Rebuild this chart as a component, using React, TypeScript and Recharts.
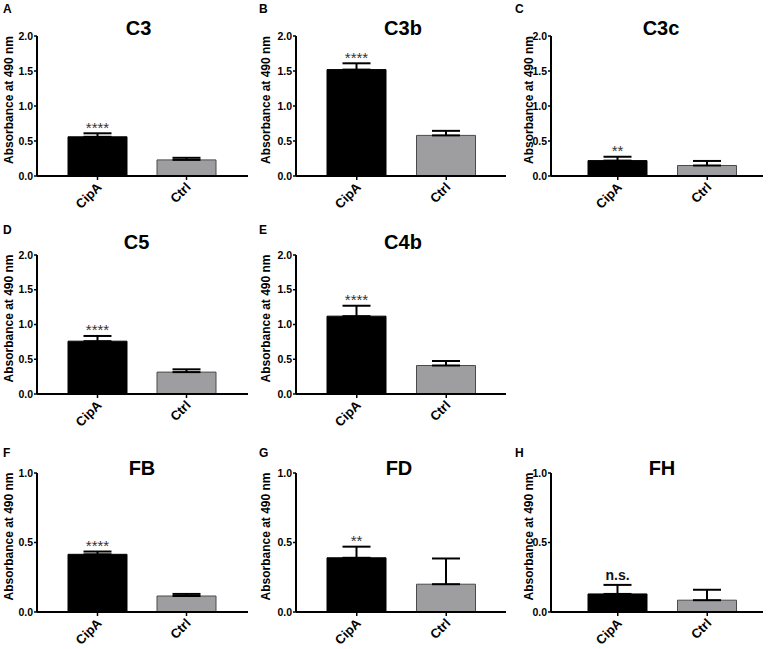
import React from 'react';
import { BarChart, Bar, XAxis, YAxis, ErrorBar, Cell, LabelList } from 'recharts';

// ---------- data ----------
const categories = ['CipA', 'Ctrl'];
const panelLetters = ['A', 'B', 'C', 'D', 'E', 'F', 'G', 'H'];
const panelTitles = ['C3', 'C3b', 'C3c', 'C5', 'C4b', 'FB', 'FD', 'FH'];

const meanC3 = [0.56, 0.23];
const errC3 = [0.05, 0.03];
const meanC3b = [1.52, 0.58];
const errC3b = [0.09, 0.065];
const meanC3c = [0.22, 0.15];
const errC3c = [0.055, 0.065];
const meanC5 = [0.76, 0.315];
const errC5 = [0.075, 0.04];
const meanC4b = [1.12, 0.41];
const errC4b = [0.15, 0.065];
const meanFB = [0.415, 0.115];
const errFB = [0.02, 0.015];
const meanFD = [0.39, 0.2];
const errFD = [0.08, 0.185];
const meanFH = [0.13, 0.085];
const errFH = [0.065, 0.075];

const significance = ['****', '****', '**', '****', '****', '****', '**', 'n.s.'];

const ticksComplement = [0, 0.5, 1.0, 1.5, 2.0];
const ticksFactor = [0, 0.5, 1.0];
const yAxisTitle = 'Absorbance at 490 nm';

const barFills = ['#000000', '#9e9ea0'];
const barStrokes = ['#000000', '#4a4a4a'];

const FONT = '"Liberation Sans", Arial, Helvetica, sans-serif';

// ---------- layout ----------
const columns = [
  { left: 0, axisX: 37, rightEnd: 248, padL: 16, padR: 17, labelX: 12.7, letterX: 3 },
  { left: 256, axisX: 296, rightEnd: 506, padL: 16, padR: 15, labelX: 14, letterX: 259 },
  { left: 512, axisX: 551, rightEnd: 763, padL: 22, padR: 11, labelX: 20.5, letterX: 515 },
];
const rows = [
  { top: 0, plotTop: 36, plotBottom: 176, height: 218, letterY: 13, titleY: 35 },
  { top: 218, plotTop: 255, plotBottom: 394, height: 216, letterY: 234, titleY: 249 },
  { top: 430, plotTop: 473, plotBottom: 612, height: 219, letterY: 457, titleY: 475 },
];
const titleCenters = [138.5, 403, 661, 136.5, 403, 142, 399, 662];

const panels = [
  { row: 0, col: 0, means: meanC3, errs: errC3, ticks: ticksComplement },
  { row: 0, col: 1, means: meanC3b, errs: errC3b, ticks: ticksComplement },
  { row: 0, col: 2, means: meanC3c, errs: errC3c, ticks: ticksComplement },
  { row: 1, col: 0, means: meanC5, errs: errC5, ticks: ticksComplement },
  { row: 1, col: 1, means: meanC4b, errs: errC4b, ticks: ticksComplement },
  { row: 2, col: 0, means: meanFB, errs: errFB, ticks: ticksFactor },
  { row: 2, col: 1, means: meanFD, errs: errFD, ticks: ticksFactor },
  { row: 2, col: 2, means: meanFH, errs: errFH, ticks: ticksFactor },
];

const XTick = (props: any) => {
  const { x, y, payload } = props;
  const ax = x + 5;
  const ay = y + 8;
  return (
    <text
      x={ax}
      y={ay}
      transform={`rotate(-45, ${ax}, ${ay})`}
      textAnchor="end"
      fontSize={13}
      fontWeight={700}
      fontFamily={FONT}
      fill="#000"
    >
      {payload.value}
    </text>
  );
};

const makeSig = (rowsData: any[]) => (props: any) => {
  const vb = props.viewBox || props;
  const index = props.index;
  if (index !== 0) return null;
  const d = rowsData[index];
  const x = Number(vb.x);
  const y = Number(vb.y);
  const w = Number(vb.width);
  const h = Number(vb.height);
  const top = Math.min(y, y + h);
  const pxPerUnit = Math.abs(h) / d.mean;
  const capY = top - d.errRange[1] * pxPerUnit;
  const cx = x + w / 2;
  const isNS = d.sig === 'n.s.';
  return (
    <text
      x={cx}
      y={isNS ? capY - 5 : capY - 0.5}
      textAnchor="middle"
      fontSize={isNS ? 14 : 15}
      fontWeight={isNS ? 700 : 400}
      fontFamily={FONT}
      fill={isNS ? '#111' : '#333'}
    >
      {d.sig}
    </text>
  );
};

const Panel = ({ idx }: { idx: number }) => {
  const p = panels[idx];
  const c = columns[p.col];
  const r = rows[p.row];
  const data = categories.map((name, i) => ({
    name,
    mean: p.means[i],
    errRange: [0, p.errs[i]],
    sig: i === 0 ? significance[idx] : '',
  }));
  const width = c.rightEnd - c.left + 2;
  const marginTop = r.plotTop - r.top;
  const xAxisHeight = r.height - (r.plotBottom - r.top);
  const yMax = p.ticks[p.ticks.length - 1];
  const plotH = r.plotBottom - r.plotTop;
  const labelY = marginTop + plotH / 2 - 6;
  const yLabel = () => (
    <text
      x={c.labelX}
      y={labelY}
      transform={`rotate(-90, ${c.labelX}, ${labelY})`}
      textAnchor="middle"
      fontSize={12}
      fontWeight={700}
      fontFamily={FONT}
      fill="#000"
    >
      {yAxisTitle}
    </text>
  );
  return (
    <div style={{ position: 'absolute', left: c.left, top: r.top, width, height: r.height }}>
      <BarChart
        width={width}
        height={r.height}
        data={data}
        margin={{ top: marginTop, right: 2, bottom: 0, left: 0 }}
        barSize={59}
      >
        <XAxis
          dataKey="name"
          height={xAxisHeight}
          padding={{ left: c.padL, right: c.padR }}
          axisLine={{ stroke: '#000', strokeWidth: 2 }}
          tickLine={{ stroke: '#000', strokeWidth: 1.5 }}
          tickSize={4}
          tickMargin={0}
          interval={0}
          tick={<XTick />}
        />
        <YAxis
          width={c.axisX - c.left}
          domain={[0, yMax]}
          ticks={p.ticks}
          allowDataOverflow
          tickFormatter={(v: number) => v.toFixed(1)}
          axisLine={{ stroke: '#000', strokeWidth: 2 }}
          tickLine={{ stroke: '#000', strokeWidth: 1.5 }}
          tickSize={3}
          tickMargin={1}
          tick={{ fontSize: 10.5, fontWeight: 700, fill: '#000', fontFamily: FONT }}
          label={{ content: yLabel }}
        />
        <Bar dataKey="mean" isAnimationActive={false} strokeWidth={1}>
          {data.map((_, i) => (
            <Cell key={i} fill={barFills[i]} stroke={barStrokes[i]} />
          ))}
          <ErrorBar
            dataKey="errRange"
            direction="y"
            width={14}
            strokeWidth={2}
            stroke="#000"
            isAnimationActive={false}
          />
          <LabelList dataKey="sig" content={makeSig(data)} />
        </Bar>
      </BarChart>
    </div>
  );
};

export default function App() {
  return (
    <div
      style={{
        position: 'absolute',
        left: 0,
        top: 0,
        width: 768,
        height: 649,
        background: '#fff',
        overflow: 'hidden',
      }}
    >
      {panels.map((_, i) => (
        <Panel key={i} idx={i} />
      ))}
      <svg
        width={768}
        height={649}
        style={{ position: 'absolute', left: 0, top: 0, pointerEvents: 'none' }}
      >
        {panels.map((p, i) => (
          <g key={i}>
            <text
              x={columns[p.col].letterX}
              y={rows[p.row].letterY}
              fontSize={12}
              fontWeight={700}
              fontFamily={FONT}
              fill="#000"
            >
              {panelLetters[i]}
            </text>
            <text
              x={titleCenters[i]}
              y={rows[p.row].titleY}
              textAnchor="middle"
              fontSize={20}
              fontWeight={700}
              fontFamily={FONT}
              fill="#000"
            >
              {panelTitles[i]}
            </text>
          </g>
        ))}
      </svg>
    </div>
  );
}
